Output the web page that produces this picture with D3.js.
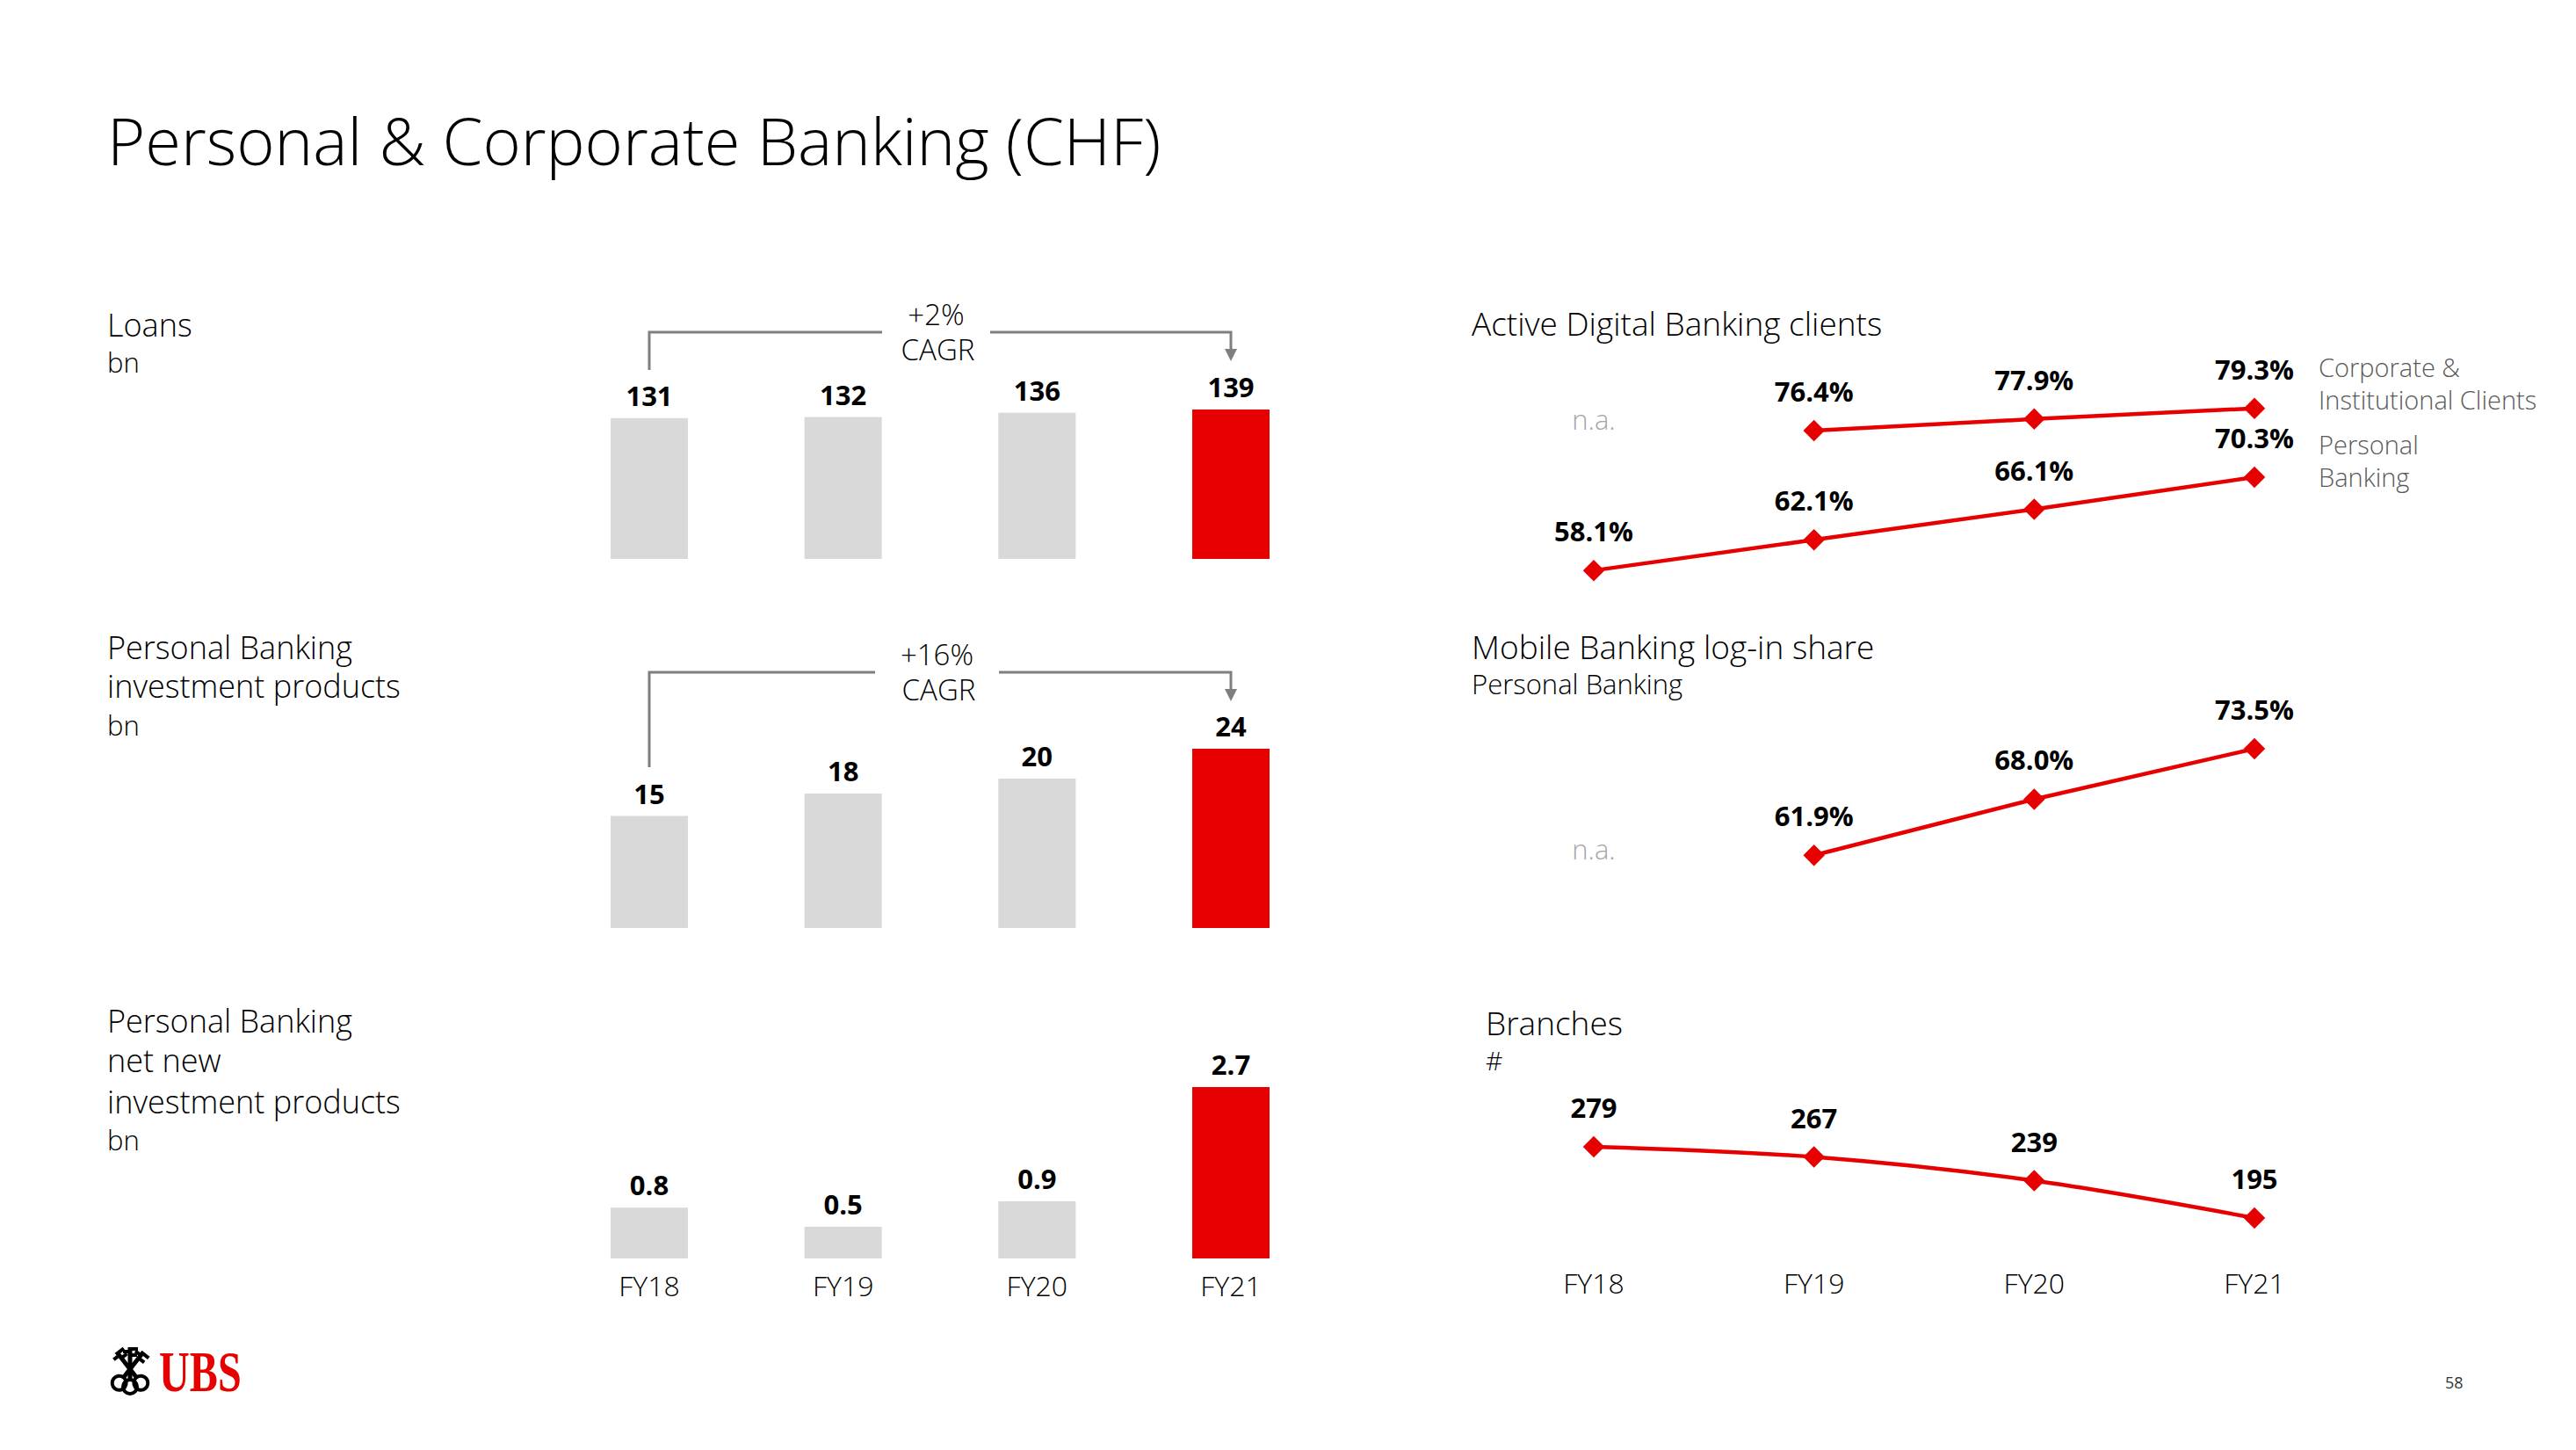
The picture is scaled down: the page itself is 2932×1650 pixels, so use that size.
<!DOCTYPE html>
<html>
<head>
<meta charset="utf-8">
<script src="https://cdn.jsdelivr.net/npm/d3@7"></script>
<style>
  html, body { margin: 0; padding: 0; background: #fff; }
  svg { display: block; }
  text { font-family: "Open Sans", "Noto Sans", "DejaVu Sans", sans-serif; }
</style>
</head>
<body>
<svg id="chart" width="2932" height="1650"></svg>
<script>
// ---------- data ----------
const years = ["FY18", "FY19", "FY20", "FY21"];
const loans = [131, 132, 136, 139];
const investmentProducts = [15, 18, 20, 24];
const netNewInvestment = [0.8, 0.5, 0.9, 2.7];
const digitalCorporate = [null, 76.4, 77.9, 79.3];
const digitalPersonal = [58.1, 62.1, 66.1, 70.3];
const mobileLogin = [null, 61.9, 68.0, 73.5];
const branches = [279, 267, 239, 195];
const cagrLabels = ["+2%", "+16%"];
const leftTitles = [["Loans"], ["Personal Banking", "investment products"], ["Personal Banking", "net new", "investment products"]];

// ---------- styles ----------
const RED = "#e60000", GREY_BAR = "#d9d9d9", ARROW = "#7f7f7f";
const svg = d3.select("#chart");

// title
svg.append("text").attr("x", 122).attr("y", 188)
  .attr("font-size", 74).attr("font-weight", 300).attr("fill", "#000")
  .text("Personal & Corporate Banking (CHF)");

// ---------- left titles ----------
function leftLabel(lines, baselines, unitY) {
  const g = svg.append("g");
  lines.forEach((t, i) => g.append("text").attr("x", 122).attr("y", baselines[i])
    .attr("font-size", 36).attr("font-weight", 300).text(t));
  g.append("text").attr("x", 122).attr("y", unitY).attr("font-size", 31).attr("font-weight", 300).text("bn");
}
leftLabel(leftTitles[0], [383], 424);
leftLabel(leftTitles[1], [750, 794], 837);
leftLabel(leftTitles[2], [1175, 1220, 1267], 1309);

// ---------- bar charts ----------
const xBar = d3.scalePoint().domain(years).range([739, 1401]);
const barW = 88;

function barChart(values, yScale, fmt) {
  const g = svg.append("g");
  g.selectAll("rect").data(values).join("rect")
    .attr("x", (d, i) => xBar(years[i]) - barW / 2)
    .attr("y", d => yScale(d))
    .attr("width", barW)
    .attr("height", d => yScale(0) - yScale(d))
    .attr("fill", (d, i) => i === values.length - 1 ? RED : GREY_BAR);
  g.selectAll("text.v").data(values).join("text").attr("class", "v")
    .attr("x", (d, i) => xBar(years[i]))
    .attr("y", d => yScale(d) - 14)
    .attr("text-anchor", "middle").attr("font-size", 31).attr("font-weight", 700)
    .text(fmt);
  return g;
}
const yLoans = d3.scaleLinear().domain([0, 139]).range([636, 466]);
const yInv = d3.scaleLinear().domain([0, 24]).range([1056, 852]);
const yNet = d3.scaleLinear().domain([0, 2.7]).range([1432, 1237]);
barChart(loans, yLoans, d => d3.format("d")(d));
barChart(investmentProducts, yInv, d => d3.format("d")(d));
barChart(netNewInvestment, yNet, d => d3.format(".1f")(d));

// x axis labels for bar charts
svg.append("g").selectAll("text").data(years).join("text")
  .attr("x", d => xBar(d)).attr("y", 1475)
  .attr("text-anchor", "middle").attr("font-size", 32).attr("font-weight", 300).text(d => d);

// CAGR brackets
function cagr(label, lineY, leftBottom, tipY, gapL, gapR) {
  const g = svg.append("g");
  const x0 = xBar(years[0]), x1 = xBar(years[years.length - 1]);
  g.append("path").attr("d", `M${x0},${leftBottom}V${lineY}H${gapL}`)
    .attr("fill", "none").attr("stroke", ARROW).attr("stroke-width", 3);
  g.append("path").attr("d", `M${gapR},${lineY}H${x1}V${tipY - 12}`)
    .attr("fill", "none").attr("stroke", ARROW).attr("stroke-width", 3);
  g.append("path").attr("d", `M${x1 - 7},${tipY - 14}L${x1 + 7},${tipY - 14}L${x1},${tipY}Z`).attr("fill", ARROW);
  const cx = (gapL + gapR) / 2;
  g.append("text").attr("x", cx).attr("y", lineY - 8).attr("text-anchor", "middle")
    .attr("font-size", 33).attr("font-weight", 300).text(label);
  g.append("text").attr("x", cx + 2).attr("y", lineY + 32).attr("text-anchor", "middle")
    .attr("font-size", 33).attr("font-weight", 300).text("CAGR");
}
cagr(cagrLabels[0], 378, 421, 411, 1004, 1127);
cagr(cagrLabels[1], 765, 873, 798, 996, 1137);

// ---------- right line charts ----------
const xLine = d3.scalePoint().domain(years).range([1814, 2566]);
const diamond = d3.symbol().type(d3.symbolSquare).size(300);

function lineSeries(values, yScale, fmt, curve) {
  const g = svg.append("g");
  const pts = values.map((v, i) => ({ v, x: xLine(years[i]) })).filter(p => p.v !== null);
  const line = d3.line().x(p => p.x).y(p => yScale(p.v)).curve(curve || d3.curveLinear);
  g.append("path").attr("d", line(pts)).attr("fill", "none").attr("stroke", RED).attr("stroke-width", 4.5);
  g.selectAll("path.m").data(pts).join("path").attr("class", "m")
    .attr("d", diamond)
    .attr("transform", p => `translate(${p.x},${yScale(p.v)}) rotate(45)`)
    .attr("fill", RED);
  g.selectAll("text").data(pts).join("text")
    .attr("x", p => p.x).attr("y", p => yScale(p.v) - 33)
    .attr("text-anchor", "middle").attr("font-size", 31).attr("font-weight", 700)
    .text(p => fmt(p.v));
}
const pct = v => d3.format(".1f")(v) + "%";

// Active Digital Banking clients
svg.append("text").attr("x", 1675).attr("y", 382).attr("font-size", 37).attr("font-weight", 300)
  .text("Active Digital Banking clients");
const yDigital = d3.scaleLinear().domain([55, 82]).range([676.1, 441.2]);
lineSeries(digitalCorporate, yDigital, pct);
lineSeries(digitalPersonal, yDigital, pct);
svg.append("text").attr("x", xLine(years[0])).attr("y", 489).attr("text-anchor", "middle")
  .attr("font-size", 31).attr("font-weight", 300).attr("fill", "#a6a6a6").text("n.a.");
const legend = [["Corporate &", 429], ["Institutional Clients", 466], ["Personal", 517], ["Banking", 554]];
svg.append("g").selectAll("text").data(legend).join("text")
  .attr("x", 2639).attr("y", d => d[1]).attr("font-size", 29).attr("font-weight", 300)
  .attr("fill", "#595959").text(d => d[0]);

// Mobile Banking log-in share
svg.append("text").attr("x", 1675).attr("y", 750).attr("font-size", 37).attr("font-weight", 300)
  .text("Mobile Banking log-in share");
svg.append("text").attr("x", 1675).attr("y", 790).attr("font-size", 31).attr("font-weight", 300)
  .text("Personal Banking");
const yMobile = d3.scaleLinear().domain([60, 75]).range([993.1, 836.3]);
lineSeries(mobileLogin, yMobile, pct);
svg.append("text").attr("x", xLine(years[0])).attr("y", 978).attr("text-anchor", "middle")
  .attr("font-size", 31).attr("font-weight", 300).attr("fill", "#a6a6a6").text("n.a.");

// Branches
svg.append("text").attr("x", 1691).attr("y", 1178).attr("font-size", 37).attr("font-weight", 300)
  .text("Branches");
svg.append("text").attr("x", 1691).attr("y", 1218).attr("font-size", 30).attr("font-weight", 300)
  .text("#");
const yBranches = d3.scaleLinear().domain([180, 290]).range([1400.4, 1294.4]);
lineSeries(branches, yBranches, d => d3.format("d")(d), d3.curveMonotoneX);
svg.append("g").selectAll("text").data(years).join("text")
  .attr("x", d => xLine(d)).attr("y", 1472)
  .attr("text-anchor", "middle").attr("font-size", 32).attr("font-weight", 300).text(d => d);

// ---------- footer ----------
// UBS keys emblem
const keys = svg.append("g").attr("transform", "translate(148,1558)");
[0, -38, 38].forEach(a => {
  const k = keys.append("g").attr("transform", `rotate(${a})`);
  k.append("rect").attr("x", -2.5).attr("y", -25).attr("width", 5).attr("height", 38).attr("fill", "#000");
  k.append("rect").attr("x", 2).attr("y", -25).attr("width", 7).attr("height", 4).attr("fill", "#000");
  k.append("rect").attr("x", 2).attr("y", -18).attr("width", 6).attr("height", 4).attr("fill", "#000");
  k.append("rect").attr("x", -8).attr("y", -22).attr("width", 6).attr("height", 4).attr("fill", "#000");
  k.append("circle").attr("cx", 0).attr("cy", 20).attr("r", 8).attr("fill", "none").attr("stroke", "#000").attr("stroke-width", 4);
});
svg.append("text").attr("transform", "translate(181,1583) scale(0.73,1)")
  .attr("font-weight", 700).attr("font-size", 66).attr("fill", RED)
  .style("font-family", "'Liberation Serif', 'DejaVu Serif', serif").text("UBS");

svg.append("text").attr("x", 2783).attr("y", 1580).attr("font-size", 18).attr("fill", "#333").text("58");
</script>
</body>
</html>
